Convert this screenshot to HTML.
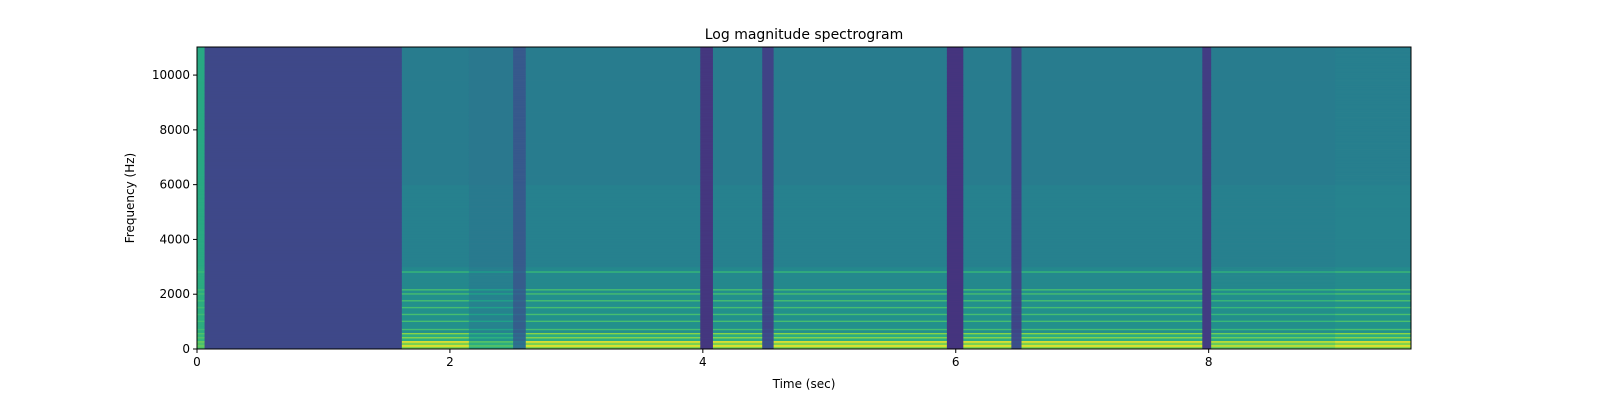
<!DOCTYPE html>
<html><head><meta charset="utf-8">
<style>
html,body{margin:0;padding:0;background:#fff;overflow:hidden;width:1600px;height:400px;}
svg{display:block;font-family:"DejaVu Sans","Liberation Sans",sans-serif;}
</style></head>
<body>
<svg id="chart" width="1600" height="400" viewBox="0 0 1600 400" xmlns="http://www.w3.org/2000/svg">
<text x="804" y="39" font-size="14" text-anchor="middle" fill="#000">Log magnitude spectrogram</text>
<g id="heat"></g>
<rect x="197" y="47" width="1214" height="302" fill="none" stroke="#000" stroke-width="1"/>
<g id="axes"></g>
<text x="804" y="388" font-size="12" text-anchor="middle">Time (sec)</text>
<text transform="translate(134,198) rotate(-90)" font-size="12" text-anchor="middle">Frequency (Hz)</text>
</svg>
<script>
// segment data: start time, end time, base level, harmonic band gain
const segStart = [0, 0.06, 1.62, 2.15, 2.5, 2.6, 3.98, 4.08, 4.47, 4.56, 5.93, 6.06, 6.44, 6.52, 7.95, 8.02, 9.0];
const segEnd   = [0.06, 1.62, 2.15, 2.5, 2.6, 3.98, 4.08, 4.47, 4.56, 5.93, 6.06, 6.44, 6.52, 7.95, 8.02, 9.0, 9.6];
const segLevel = [0.6, 0.22, 0.42, 0.4, 0.28, 0.42, 0.16, 0.42, 0.2, 0.42, 0.15, 0.42, 0.2, 0.42, 0.18, 0.42, 0.43];
const segGain  = [0.3, 0, 1, 0.6, 0.2, 1, 0, 1, 0.1, 1, 0, 1, 0.1, 1, 0, 0.9, 1];
const bandFreqs = [100, 250, 400, 550, 700, 1000, 1250, 1500, 1750, 2000, 2150, 2800];
const xTicks = [0, 2, 4, 6, 8];
const yTicks = [0, 2000, 4000, 6000, 8000, 10000];

const X0 = 197, X1 = 1411, Y0 = 349, Y1 = 47, TMAX = 9.6, FMAX = 11025;
const xs = t => X0 + (t / TMAX) * (X1 - X0);
const ys = f => Y0 - (f / FMAX) * (Y0 - Y1);

const stops = ["#440154","#482878","#3e4989","#31688e","#26828e","#1f9e89","#35b779","#6ece58","#b5de2b","#fde725"];
function hex(c){return [parseInt(c.slice(1,3),16),parseInt(c.slice(3,5),16),parseInt(c.slice(5,7),16)];}
function viridis(v){
  v = Math.max(0, Math.min(1, v));
  const p = v * (stops.length - 1), i = Math.min(stops.length - 2, Math.floor(p)), r = p - i;
  const a = hex(stops[i]), b = hex(stops[i+1]);
  return "rgb(" + a.map((x,k)=>Math.round(x + (b[k]-x)*r)).join(",") + ")";
}
const NS = "http://www.w3.org/2000/svg";
const heat = document.getElementById("heat");
const step = 50;
for (let s = 0; s < segStart.length; s++) {
  const L = segLevel[s];
  const g = segGain[s];
  for (let f = 0; f < FMAX; f += step) {
    let boost = 0;
    if (f < 300) boost = 0.38;
    else if (f < 600) boost = 0.2;
    else if (f < 2200) boost = 0.08;
    else if (f < 3000) boost = 0.05;
    else if (f < 6000) boost = 0.02;
    for (const bf of bandFreqs) if (Math.abs(f - bf) < step) boost += 0.2;
    const v = L + boost * g;
    const r = document.createElementNS(NS, "rect");
    
    
    const xa = xs(segStart[s]), xb = xs(segEnd[s]);
    const ya = ys(Math.min(FMAX, f + step)), yb = ys(f);
    r.setAttribute("x", xa.toFixed(2));
    r.setAttribute("y", ya.toFixed(2));
    r.setAttribute("width", (xb - xa + 0.4).toFixed(2));
    r.setAttribute("height", (yb - ya + 0.4).toFixed(2));
    r.setAttribute("fill", viridis(v));
    heat.appendChild(r);
  }
}
const axes = document.getElementById("axes");
for (const t of xTicks) {
  const l = document.createElementNS(NS, "line");
  
  
  l.setAttribute("x1", xs(t)); l.setAttribute("x2", xs(t));
  l.setAttribute("y1", Y0); l.setAttribute("y2", Y0 + 4); l.setAttribute("stroke", "#000");
  axes.appendChild(l);
  const tx = document.createElementNS(NS, "text");
  
  
  tx.setAttribute("x", xs(t)); tx.setAttribute("y", Y0 + 17);
  tx.setAttribute("font-size", "12"); tx.setAttribute("text-anchor", "middle");
  tx.textContent = t;
  axes.appendChild(tx);
}
for (const f of yTicks) {
  const l = document.createElementNS(NS, "line");
  
  
  l.setAttribute("x1", X0 - 4); l.setAttribute("x2", X0);
  l.setAttribute("y1", ys(f)); l.setAttribute("y2", ys(f)); l.setAttribute("stroke", "#000");
  axes.appendChild(l);
  const tx = document.createElementNS(NS, "text");
  
  
  tx.setAttribute("x", X0 - 7); tx.setAttribute("y", ys(f) + 4);
  tx.setAttribute("font-size", "12"); tx.setAttribute("text-anchor", "end");
  tx.textContent = f;
  axes.appendChild(tx);
}
</script>
</body></html>
